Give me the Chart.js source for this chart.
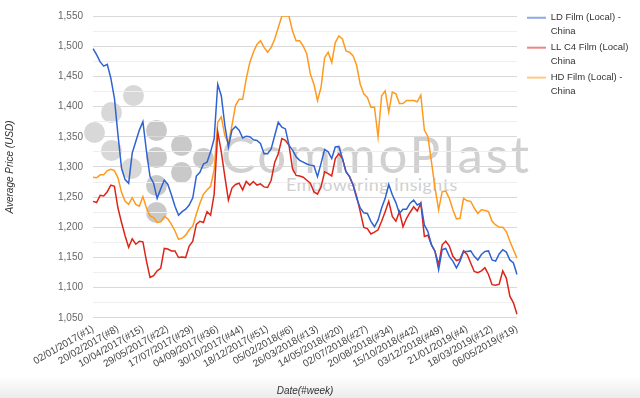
<!DOCTYPE html>
<html><head><meta charset="utf-8">
<script src="https://cdn.jsdelivr.net/npm/chart.js@4.4.1/dist/chart.umd.min.js"></script>
<style>
html,body{margin:0;padding:0;width:640px;height:398px;overflow:hidden;}
body{background:linear-gradient(to bottom,#ffffff 0px,#ffffff 376px,#ebebeb 398px);}
#wrap{position:relative;width:640px;height:398px;}
#wm{position:absolute;left:0;top:0;width:640px;height:398px;}
.dot{position:absolute;width:21px;height:21px;border-radius:50%;background:#d8d8d8;}
.dot.d{background:#c9c9c9;}
#wmt{position:absolute;left:221px;top:128px;font:51px/51px Lato,'Liberation Sans',sans-serif;letter-spacing:2.8px;color:#d0d0d0;white-space:nowrap;}
#wms{position:absolute;left:286px;top:175px;font:18px/18px Lato,'Liberation Sans',sans-serif;letter-spacing:0.4px;color:#d0d0d0;white-space:nowrap;}
canvas{position:absolute;left:0;top:0;}
</style></head>
<body><div id="wrap">
<div id="wm">
<div class="dot" style="left:84px;top:122px"></div>
<div class="dot" style="left:101px;top:102px"></div>
<div class="dot" style="left:123px;top:85px"></div>
<div class="dot" style="left:101px;top:140px"></div>
<div class="dot" style="left:121px;top:158px"></div>
<div class="dot d" style="left:146px;top:120px"></div>
<div class="dot d" style="left:146px;top:147px"></div>
<div class="dot d" style="left:146px;top:175px"></div>
<div class="dot d" style="left:146px;top:202px"></div>
<div class="dot d" style="left:171px;top:135px"></div>
<div class="dot d" style="left:171px;top:162px"></div>
<div class="dot d" style="left:193px;top:148px"></div>
<div id="wmt">CommoPlast</div>
<div id="wms">Empowering Insights</div>
</div>
<canvas id="c" width="640" height="398"></canvas>
</div>
<script>
const weekLabels = [
'02/01/2017(#1)','09/01/2017(#2)','16/01/2017(#3)','23/01/2017(#4)','30/01/2017(#5)','06/02/2017(#6)','13/02/2017(#7)','20/02/2017(#8)','27/02/2017(#9)','06/03/2017(#10)','13/03/2017(#11)','20/03/2017(#12)','27/03/2017(#13)','03/04/2017(#14)','10/04/2017(#15)','17/04/2017(#16)','24/04/2017(#17)','01/05/2017(#18)','08/05/2017(#19)','15/05/2017(#20)','22/05/2017(#21)','29/05/2017(#22)','05/06/2017(#23)','12/06/2017(#24)','19/06/2017(#25)','26/06/2017(#26)','03/07/2017(#27)','10/07/2017(#28)','17/07/2017(#29)','24/07/2017(#30)','31/07/2017(#31)','07/08/2017(#32)','14/08/2017(#33)','21/08/2017(#34)','28/08/2017(#35)','04/09/2017(#36)','11/09/2017(#37)','18/09/2017(#38)','25/09/2017(#39)','09/10/2017(#41)','16/10/2017(#42)','23/10/2017(#43)','30/10/2017(#44)','06/11/2017(#45)','13/11/2017(#46)','20/11/2017(#47)','27/11/2017(#48)','04/12/2017(#49)','11/12/2017(#50)','18/12/2017(#51)','25/12/2017(#52)',
'01/01/2018(#1)','08/01/2018(#2)','15/01/2018(#3)','22/01/2018(#4)','29/01/2018(#5)','05/02/2018(#6)','12/02/2018(#7)','19/02/2018(#8)','26/02/2018(#9)','05/03/2018(#10)','12/03/2018(#11)','19/03/2018(#12)','26/03/2018(#13)','02/04/2018(#14)','09/04/2018(#15)','16/04/2018(#16)','23/04/2018(#17)','30/04/2018(#18)','07/05/2018(#19)','14/05/2018(#20)','21/05/2018(#21)','28/05/2018(#22)','04/06/2018(#23)','11/06/2018(#24)','18/06/2018(#25)','25/06/2018(#26)','02/07/2018(#27)','09/07/2018(#28)','16/07/2018(#29)','23/07/2018(#30)','30/07/2018(#31)','06/08/2018(#32)','13/08/2018(#33)','20/08/2018(#34)','27/08/2018(#35)','03/09/2018(#36)','10/09/2018(#37)','17/09/2018(#38)','24/09/2018(#39)','08/10/2018(#41)','15/10/2018(#42)','22/10/2018(#43)','29/10/2018(#44)','05/11/2018(#45)','12/11/2018(#46)','19/11/2018(#47)','26/11/2018(#48)','03/12/2018(#49)','10/12/2018(#50)','17/12/2018(#51)','24/12/2018(#52)',
'31/12/2018(#1)','07/01/2019(#2)','14/01/2019(#3)','21/01/2019(#4)','28/01/2019(#5)','11/02/2019(#7)','18/02/2019(#8)','25/02/2019(#9)','04/03/2019(#10)','11/03/2019(#11)','18/03/2019(#12)','25/03/2019(#13)','01/04/2019(#14)','08/04/2019(#15)','15/04/2019(#16)','22/04/2019(#17)','29/04/2019(#18)','06/05/2019(#19)'
];

const seriesNames = ['LD Film (Local) - China','LL C4 Film (Local) - China','HD Film (Local) - China'];

const ldFilm = [
1496,1486,1474,1467,1470,1447,1414,1353,1298,1279,1273,1323,1342,1361,1375,1326,1284,1273,1248,1264,
1278,1271,1254,1235,1220,1226,1230,1237,1249,1285,1291,1305,1308,1325,1347,1437,1418,1369,1333,1361,
1367,1361,1348,1351,1350,1345,1344,1339,1322,1322,1330,1352,1374,1366,1363,1336,1328,1317,1311,1308,
1305,1303,1302,1284,1306,1329,1325,1314,1333,1334,1314,1292,1284,1270,1248,1232,1224,1223,1210,1201,
1212,1232,1248,1271,1254,1241,1223,1230,1230,1240,1245,1237,1240,1204,1193,1171,1160,1130,1163,1165,
1152,1144,1133,1144,1160,1160,1161,1152,1146,1155,1160,1161,1146,1144,1156,1163,1159,1146,1141,1122
];

const llC4Film = [
1243,1241,1253,1252,1259,1270,1268,1232,1208,1186,1167,1181,1172,1177,1176,1144,1117,1120,1128,1132,
1165,1164,1161,1161,1150,1151,1150,1169,1177,1205,1210,1208,1226,1220,1255,1358,1325,1284,1245,1265,
1271,1273,1262,1276,1270,1276,1270,1272,1267,1266,1278,1308,1322,1347,1344,1336,1297,1286,1285,1283,
1278,1273,1259,1255,1267,1292,1289,1285,1314,1322,1314,1292,1284,1270,1251,1226,1200,1198,1189,1192,
1196,1210,1226,1243,1218,1210,1226,1201,1215,1225,1234,1227,1240,1185,1187,1171,1160,1138,1171,1177,
1169,1152,1145,1147,1161,1155,1141,1127,1125,1128,1133,1122,1105,1104,1106,1128,1116,1086,1075,1056
];

const hdFilm = [
1283,1282,1287,1287,1294,1296,1294,1282,1258,1243,1238,1249,1238,1235,1251,1232,1219,1216,1208,1209,
1218,1214,1205,1194,1180,1182,1187,1196,1202,1222,1240,1255,1262,1268,1295,1374,1383,1352,1339,1369,
1402,1412,1412,1446,1473,1490,1503,1509,1498,1490,1498,1512,1531,1550,1550,1550,1525,1509,1509,1500,
1487,1454,1437,1410,1432,1481,1490,1473,1506,1517,1512,1492,1490,1484,1468,1437,1421,1415,1399,1399,
1350,1418,1426,1391,1424,1421,1405,1405,1410,1410,1410,1408,1419,1361,1350,1308,1265,1229,1259,1260,
1248,1229,1214,1215,1248,1244,1243,1232,1223,1229,1228,1226,1210,1204,1200,1200,1193,1177,1163,1149
];

const yMin = 1050, yMax = 1550, yStep = 25, yLabelStep = 50;
const tickEvery = 7;

const lineColors = ['#2f63d3','#dd2418','#ff9a1e'];
const legendColors = ['rgba(47,99,211,0.55)','rgba(221,36,24,0.55)','rgba(255,154,30,0.55)'];
const FONT = "'Liberation Sans', Arial, Helvetica, sans-serif";

const seriesData = [ldFilm, llC4Film, hdFilm];

new Chart(document.getElementById('c'), {
  type: 'line',
  data: {
    labels: weekLabels,
    datasets: seriesNames.map((n, i) => ({
      label: n,
      data: seriesData[i],
      borderColor: lineColors[i],
      backgroundColor: lineColors[i],
      borderWidth: 1.5,
      pointRadius: 0,
      tension: 0,
      fill: false
    }))
  },
  options: {
    responsive: false,
    animation: false,
    layout: { padding: { left: 0, right: 10, top: 8, bottom: 0 } },
    plugins: {
      tooltip: { enabled: false },
      legend: {
        position: 'right',
        align: 'start',
        title: { display: true, text: ' ', padding: 0, font: { size: 3, lineHeight: 1 } },
        labels: {
          usePointStyle: true,
          pointStyleWidth: 19,
          padding: 2,
          color: '#333',
          font: { family: FONT, size: 9.5, lineHeight: 1.47 },
          generateLabels: (chart) => chart.data.datasets.map((ds, i) => {
            const parts = ds.label.split(' - ');
            return {
              text: [parts[0] + ' -', parts[1]],
              fillStyle: legendColors[i],
              strokeStyle: legendColors[i],
              lineWidth: 2,
              pointStyle: 'line',
              hidden: false,
              datasetIndex: i,
              fontColor: '#333'
            };
          })
        }
      }
    },
    scales: {
      x: {
        type: 'category',
        offset: false,
        grid: { display: false },
        border: { display: false },
        ticks: {
          autoSkip: false,
          minRotation: 30,
          maxRotation: 30,
          color: '#444',
          padding: -3,
          font: { family: FONT, size: 10 },
          callback: function (v, i) { return i % tickEvery === 0 ? this.getLabelForValue(v) : null; }
        },
        title: { display: true, text: 'Date(#week)', color: '#333', padding: { top: 18, bottom: 1 }, font: { family: FONT, size: 10, style: 'italic' } }
      },
      y: {
        min: yMin,
        max: yMax,
        border: { display: false },
        grid: {
          drawTicks: false,
          color: (ctx) => (ctx.tick && ctx.tick.value % yLabelStep === 0) ? '#d9d9d9' : '#efefef',
          lineWidth: 1
        },
        ticks: {
          stepSize: yStep,
          padding: 10,
          color: '#666',
          font: { family: FONT, size: 10 },
          callback: (v) => v % yLabelStep === 0 ? v.toLocaleString('en-US') : ''
        },
        title: { display: true, text: 'Average Price (USD)', color: '#333', padding: { top: 4, bottom: 32 }, font: { family: FONT, size: 10, style: 'italic' } }
      },
      gap: {
        type: 'linear',
        position: 'right',
        display: true,
        grid: { display: false },
        border: { display: false },
        ticks: { display: false },
        afterFit: (s) => { s.width = 8; }
      }
    }
  }
});
</script>
</body></html>
